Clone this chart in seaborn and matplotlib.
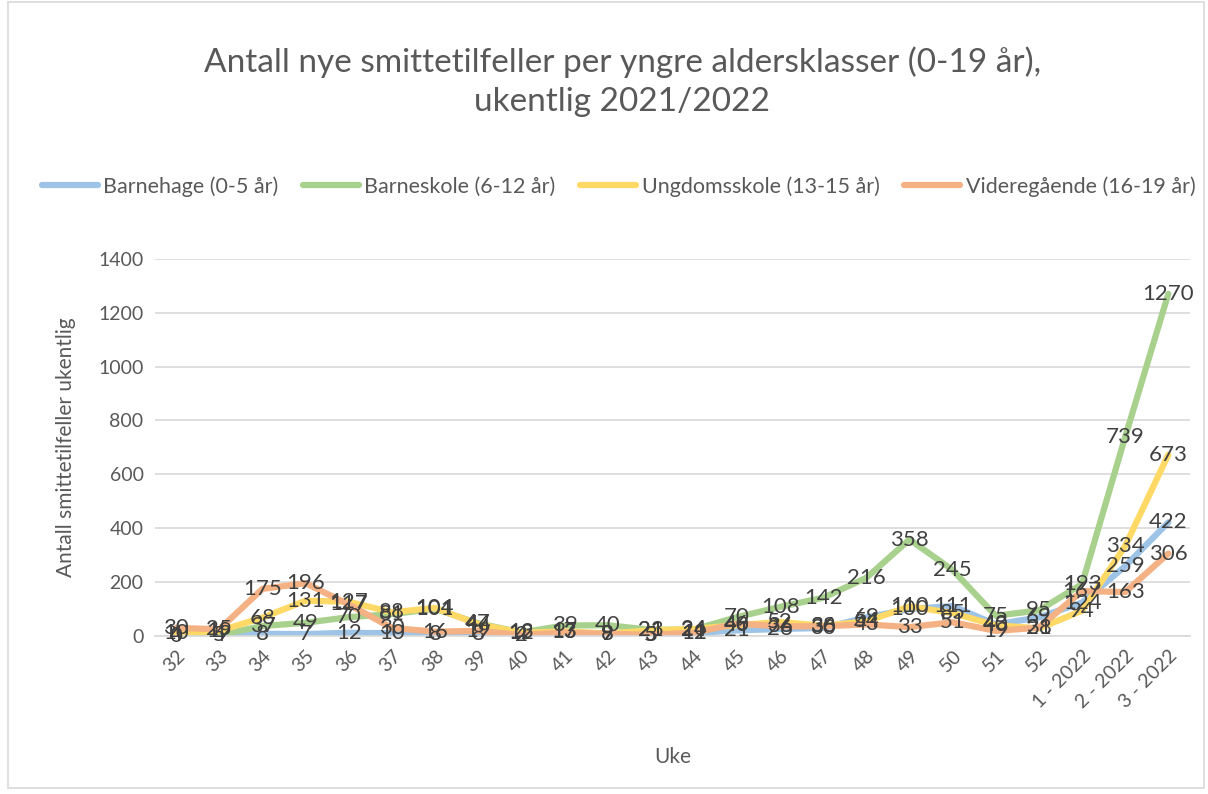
import pandas as pd
import numpy as np
import seaborn as sns
import matplotlib.pyplot as plt
from matplotlib.patches import Rectangle

# Weeks (x axis categories)
weeks = ["32", "33", "34", "35", "36", "37", "38", "39", "40", "41", "42", "43",
         "44", "45", "46", "47", "48", "49", "50", "51", "52",
         "1 - 2022", "2 - 2022", "3 - 2022"]

# Series values
barnehage = [0, 5, 8, 7, 12, 10, 8, 8, 2, 13, 9, 3,
             11, 21, 26, 30, 69, 100, 111, 43, 69, 124, 259, 422]
barneskole = [4, 4, 37, 49, 70, 81, 101, 47, 13, 39, 40, 23,
              24, 70, 108, 142, 216, 358, 245, 75, 95, 193, 739, 1270]
ungdomsskole = [10, 19, 68, 131, 127, 88, 104, 44, 12, 17, 9, 21,
                26, 40, 52, 38, 54, 110, 85, 40, 28, 94, 334, 673]
videregaende = [30, 25, 175, 196, 117, 30, 16, 19, 4, 13, 8, 5,
                12, 46, 36, 36, 43, 33, 51, 19, 31, 167, 163, 306]

series_names = ["Barnehage (0-5 år)", "Barneskole (6-12 år)",
                "Ungdomsskole (13-15 år)", "Videregående (16-19 år)"]
series_values = [barnehage, barneskole, ungdomsskole, videregaende]
colors = ["#9DC3E6", "#A9D18E", "#FFD966", "#F4B183"]

rows = []
for name, vals in zip(series_names, series_values):
    for i, v in enumerate(vals):
        rows.append({"idx": i, "uke": weeks[i], "antall": v, "gruppe": name})
df = pd.DataFrame(rows)

sns.set_theme(style="white")
plt.rcParams['font.family'] = ['Lato', 'DejaVu Sans']

text_color = "#595959"
fig = plt.figure(figsize=(12.08, 7.94), dpi=100)
ax = fig.add_axes([0.128, 0.199, 0.857, 0.475])

sns.lineplot(data=df, x="idx", y="antall", hue="gruppe", hue_order=series_names,
             palette=colors, linewidth=4.5, ax=ax, legend=True)

# data labels centred on each point
for name, vals in zip(series_names, series_values):
    for i, v in enumerate(vals):
        ax.text(i, v, str(v), ha="center", va="center", fontsize=16, color="#404040")

ax.set_xlim(-0.5, len(weeks) - 0.5)
ax.set_ylim(0, 1400)
ax.set_yticks(np.arange(0, 1401, 200))
ax.yaxis.grid(True, color="#D9D9D9", linewidth=1.2)
ax.set_axisbelow(True)
ax.set_xticks(range(len(weeks)))
ax.set_xticklabels(weeks, rotation=45, ha="right", rotation_mode="anchor")
ax.tick_params(axis="both", labelsize=14, colors=text_color, length=0, pad=8)
for s in ax.spines.values():
    s.set_visible(False)
ax.spines["bottom"].set_visible(True)
ax.spines["bottom"].set_color("#D9D9D9")

ax.set_xlabel("Uke", fontsize=15, color=text_color, labelpad=26)
ax.set_ylabel("Antall smittetilfeller ukentlig", fontsize=15, color=text_color, labelpad=16)

handles, labels = ax.get_legend_handles_labels()
ax.legend(handles, labels, loc="center", bbox_to_anchor=(0.512, 0.765),
          bbox_transform=fig.transFigure, ncol=4, frameon=False, fontsize=15.5,
          labelcolor=text_color, handlelength=2.6, handletextpad=0.25, columnspacing=1.15)

fig.text(0.515, 0.897, "Antall nye smittetilfeller per yngre aldersklasser (0-19 år),\nukentlig 2021/2022",
         ha="center", va="center", fontsize=24, color=text_color, linespacing=1.4)

fig.patches.append(Rectangle((0.007, 0.008), 0.99, 0.99, transform=fig.transFigure,
                             fill=False, edgecolor="#D9D9D9", linewidth=1.2))

fig.savefig("out.png", dpi=100)
